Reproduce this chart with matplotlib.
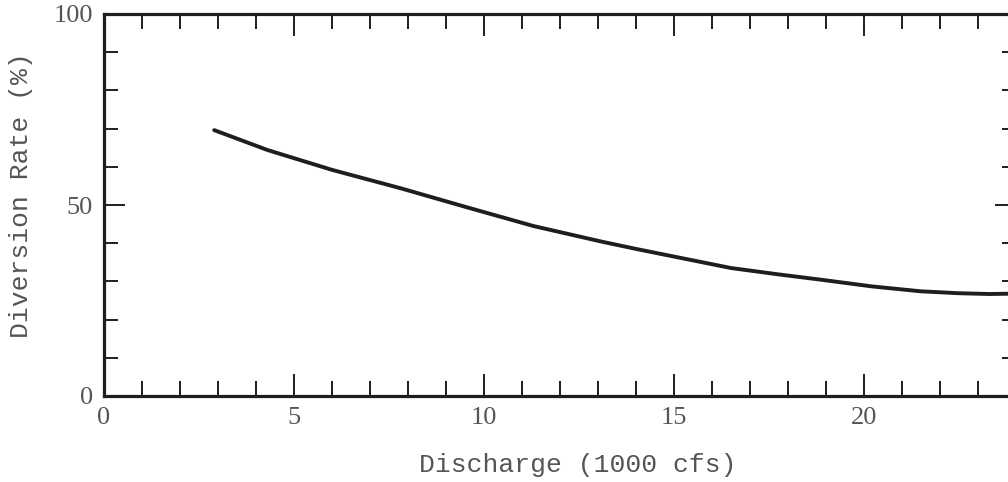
import numpy as np
import matplotlib
matplotlib.use('Agg')
import matplotlib.pyplot as plt
from matplotlib.ticker import MultipleLocator, FixedLocator

# curve
discharge = [2.9, 4.3, 6.0, 7.8, 9.55, 11.3, 13.1, 14.05, 15.05, 16.5,
             17.7, 18.9, 20.2, 21.5, 22.5, 23.3, 24.0]
diversion = [69.6, 64.4, 59.2, 54.4, 49.4, 44.5, 40.4, 38.4, 36.4, 33.5,
             31.9, 30.4, 28.7, 27.4, 26.9, 26.7, 26.8]

x_labels = [0, 5, 10, 15, 20]
y_labels = [0, 50, 100]

ink = '#1e1e1e'
grey = '#555555'

fig = plt.figure(figsize=(10.08, 4.82), dpi=100)
ax = fig.add_axes([104 / 1008, 86 / 482, 912 / 1008, 382 / 482])

ax.plot(discharge, diversion, color=ink, lw=2.8, solid_capstyle='round',
        solid_joinstyle='round')

ax.set_xlim(0, 24)
ax.set_ylim(0, 100)

for s in ax.spines.values():
    s.set_linewidth(2.3)
    s.set_color(ink)

ax.xaxis.set_major_locator(FixedLocator(x_labels))
ax.xaxis.set_minor_locator(MultipleLocator(1))
ax.yaxis.set_major_locator(FixedLocator(y_labels))
ax.yaxis.set_minor_locator(MultipleLocator(10))

ax.tick_params(which='both', direction='in', top=True, right=True,
               color=ink, width=1.4)
ax.tick_params(axis='x', which='major', length=16, pad=8)
ax.tick_params(axis='x', which='minor', length=11)
ax.tick_params(axis='y', which='major', length=15, pad=8)
ax.tick_params(axis='y', which='minor', length=10)

for lab in ax.get_xticklabels() + ax.get_yticklabels():
    lab.set_fontfamily('Liberation Serif')
    lab.set_fontsize(19)
    lab.set_color(grey)

ax.set_xlabel('Discharge (1000 cfs)', fontfamily='Liberation Mono',
              fontsize=19, color=grey)
ax.set_ylabel('Diversion Rate (%)', fontfamily='Liberation Mono',
              fontsize=19, color=grey)
ax.xaxis.set_label_coords(0.519, -0.150)
ax.yaxis.set_label_coords(-0.078, 0.526)

fig.savefig('out.png', dpi=100)
